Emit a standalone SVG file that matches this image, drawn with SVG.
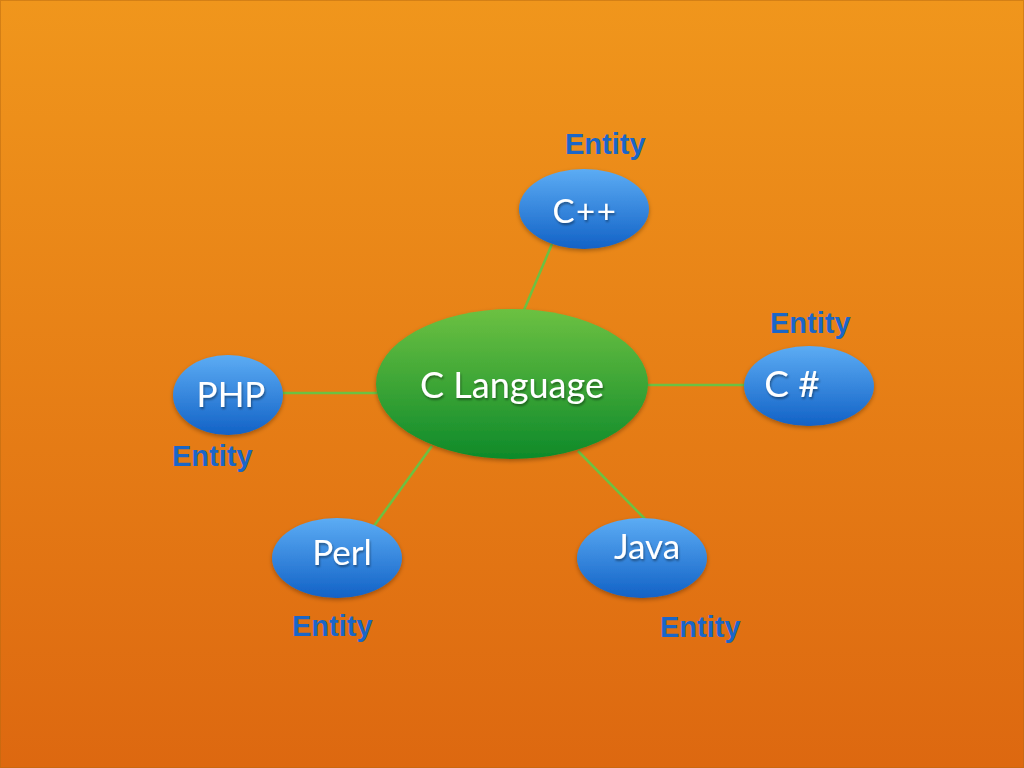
<svg xmlns="http://www.w3.org/2000/svg" width="1024" height="768" viewBox="0 0 1024 768">
<defs>
<linearGradient id="bg" x1="0" y1="0" x2="0" y2="1">
<stop offset="0" stop-color="#f0961c"/>
<stop offset="1" stop-color="#dd6810"/>
</linearGradient>
<linearGradient id="blue" x1="0" y1="0" x2="0" y2="1">
<stop offset="0" stop-color="#5cacf4"/>
<stop offset="1" stop-color="#1262c6"/>
</linearGradient>
<linearGradient id="green" x1="0" y1="0" x2="0" y2="1">
<stop offset="0" stop-color="#6cc142"/>
<stop offset="1" stop-color="#0e8a2a"/>
</linearGradient>
<filter id="sh" x="-20%" y="-20%" width="140%" height="150%">
<feDropShadow dx="0" dy="2" stdDeviation="2" flood-color="#000" flood-opacity="0.3"/>
</filter>
<filter id="tsh" x="-10%" y="-20%" width="120%" height="150%">
<feDropShadow dx="1" dy="2" stdDeviation="1" flood-color="#000" flood-opacity="0.4"/>
</filter>
</defs>
<style>
.blue{fill:url(#blue);filter:url(#sh)}
.green{fill:url(#green);filter:url(#sh)}
.lbl{font-family:Lato,"Open Sans",sans-serif;fill:#fff;text-anchor:middle;filter:url(#tsh)}
.ent{font-family:"Liberation Sans",Arial,sans-serif;font-weight:bold;font-size:29px;fill:#1a66c8}
.edge{stroke:#6cc142;stroke-width:2.5;fill:none}
</style>
<rect x="0" y="0" width="1024" height="768" fill="url(#bg)"/>
<rect x="0.5" y="0.5" width="1023" height="767" fill="none" stroke="#b86a10" stroke-opacity="0.5"/>
<g id="connectors">
<line class="edge" x1="552" y1="244" x2="524" y2="310"/>
<line class="edge" x1="277" y1="393" x2="377" y2="393"/>
<line class="edge" x1="647" y1="385" x2="745" y2="385"/>
<line class="edge" x1="432" y1="446" x2="374" y2="526"/>
<line class="edge" x1="578" y1="451" x2="645" y2="519"/>
</g>
<g id="c-language">
<ellipse class="green" cx="512" cy="384" rx="136" ry="75"/>
<text class="lbl" x="512" y="398" font-size="36">C Language</text>
</g>
<g id="cpp">
<ellipse class="blue" cx="584" cy="209" rx="65" ry="40"/>
<text class="lbl" x="585" y="223" font-size="33" letter-spacing="1.5">C++</text>
<text class="ent" x="565" y="154">Entity</text>
</g>
<g id="csharp">
<ellipse class="blue" cx="809" cy="386" rx="65" ry="40"/>
<text class="lbl" x="792" y="397" font-size="37">C #</text>
<text class="ent" x="770" y="333">Entity</text>
</g>
<g id="php">
<ellipse class="blue" cx="228" cy="395" rx="55" ry="40"/>
<text class="lbl" x="231" y="407" font-size="35">PHP</text>
<text class="ent" x="172" y="466">Entity</text>
</g>
<g id="perl">
<ellipse class="blue" cx="337" cy="558" rx="65" ry="40"/>
<text class="lbl" x="342" y="565" font-size="35">Perl</text>
<text class="ent" x="292" y="636">Entity</text>
</g>
<g id="java">
<ellipse class="blue" cx="642" cy="558" rx="65" ry="40"/>
<text class="lbl" x="647" y="559" font-size="35">Java</text>
<text class="ent" x="660" y="637">Entity</text>
</g>
</svg>
